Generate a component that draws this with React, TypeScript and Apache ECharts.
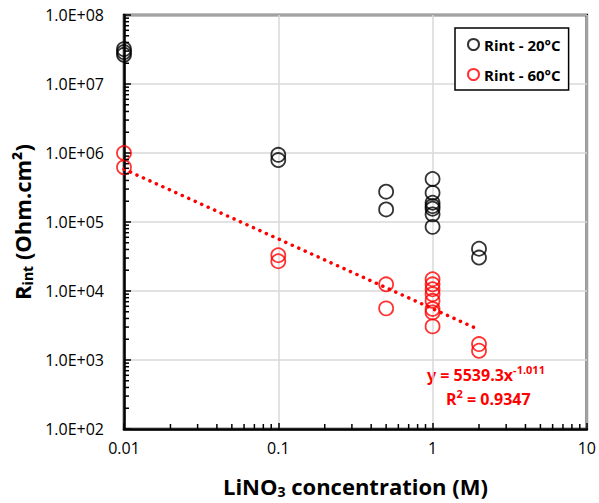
import React, { useEffect, useRef } from "react";
import * as echarts from "echarts";

const rint20X = [0.01, 0.01, 0.01, 0.1, 0.1, 0.5, 0.5, 1, 1, 1, 1, 1, 1, 1, 2, 2];
const rint20Y = [3.2e7, 2.9e7, 2.65e7, 9.4e5, 7.9e5, 2.75e5, 1.52e5, 4.2e5, 2.65e5, 1.9e5, 1.7e5, 1.56e5, 1.29e5, 8.5e4, 4.1e4, 3.05e4];
const rint60X = [0.01, 0.01, 0.1, 0.1, 0.5, 0.5, 1, 1, 1, 1, 1, 1, 1, 1, 2, 2];
const rint60Y = [1.0e6, 6.2e5, 3.3e4, 2.7e4, 1.25e4, 5.6e3, 1.48e4, 1.25e4, 1.06e4, 9.0e3, 7.2e3, 5.5e3, 4.9e3, 3.07e3, 1.7e3, 1.36e3];
const trendA = 5539.3;
const trendB = -1.011;
const trendRange = [0.01, 2];
const r2Text = "0.9347";
const seriesNames = ["Rint - 20°C", "Rint - 60°C"];
const xDecades = [0.01, 0.1, 1];
const yDecades = [100, 1000, 1e4, 1e5, 1e6, 1e7];
const minorMultipliers = [2, 3, 4, 5, 6, 7, 8, 9];

const FONT = "'Open Sans', Lato, sans-serif";

export default function App() {
  const ref = useRef<HTMLDivElement>(null);
  useEffect(() => {
    const chart = echarts.init(ref.current!, null, { renderer: "svg" });
    const pts = (xs: number[], ys: number[]) => xs.map((x, i) => [x, ys[i]]);
    const trend = trendRange.map((x) => [x, trendA * Math.pow(x, trendB)]);
    const markerStyle = (c: string) => ({ color: "transparent", borderColor: c, borderWidth: 1.8 });
    const xMinor: number[][] = [];
    xDecades.forEach((d) => minorMultipliers.forEach((m) => xMinor.push([d * m, 100])));
    const yMinor: number[][] = [];
    yDecades.forEach((d) => minorMultipliers.forEach((m) => yMinor.push([0.01, d * m])));
    const tickSeries = (data: number[][], horizontal: boolean) => ({
      type: "custom",
      silent: true,
      clip: false,
      z: 5,
      data,
      renderItem: (params: any, api: any) => {
        const p = api.coord([api.value(0), api.value(1)]);
        return {
          type: "line",
          shape: horizontal
            ? { x1: p[0], y1: p[1], x2: p[0] + 5, y2: p[1] }
            : { x1: p[0], y1: p[1], x2: p[0], y2: p[1] - 5 },
          style: { stroke: "#000", lineWidth: 1.5 },
        };
      },
    });
    const titleRich = {
      a: { fontFamily: FONT, fontWeight: "bold", fontSize: 22, color: "#000" },
      s: { fontFamily: FONT, fontWeight: "bold", fontSize: 14, color: "#000", padding: [11, 0, 0, 0] },
    };
    const eqRich = {
      a: { fontFamily: FONT, fontWeight: "bold", fontSize: 16, fill: "#ff0000" },
      s: { fontFamily: FONT, fontWeight: "bold", fontSize: 11, fill: "#ff0000", padding: [0, 0, 10, 0] },
    };
    chart.setOption({
      animation: false,
      textStyle: { fontFamily: FONT },
      grid: { left: 124, top: 15, right: 9, bottom: 73, show: true, borderColor: "#000", borderWidth: 2.5 },
      legend: {
        data: seriesNames,
        orient: "vertical",
        left: 455,
        top: 28,
        width: 120,
        padding: [9, 8, 8, 12],
        itemGap: 15,
        itemWidth: 11,
        itemHeight: 11,
        backgroundColor: "#fff",
        borderColor: "#000",
        borderWidth: 1.5,
        textStyle: { fontFamily: FONT, fontWeight: "bold", fontSize: 15, color: "#000" },
      },
      xAxis: {
        type: "log",
        logBase: 10,
        min: 0.01,
        max: 10,
        name: "{a|LiNO}{s|3}{a| concentration (M)}",
        nameLocation: "middle",
        nameGap: 44,
        nameTextStyle: { rich: titleRich },
        axisLine: { lineStyle: { color: "#000", width: 2.5 } },
        axisTick: { inside: true, length: 6, lineStyle: { color: "#000", width: 1.5 } },
        minorTick: { show: false },
        splitLine: { show: true, lineStyle: { color: "#d9d9d9", width: 1.5 } },
        axisLabel: { fontFamily: FONT, fontSize: 16, color: "#000", margin: 11, formatter: (v: number) => String(v) },
      },
      yAxis: {
        type: "log",
        logBase: 10,
        min: 100,
        max: 1e8,
        name: "{a|R}{s|int}{a| (Ohm.cm²)}",
        nameLocation: "middle",
        nameGap: 88,
        nameTextStyle: { rich: titleRich },
        axisLine: { lineStyle: { color: "#000", width: 2.5 } },
        axisTick: { inside: true, length: 7, lineStyle: { color: "#000", width: 1.5 } },
        minorTick: { show: false },
        splitLine: { show: true, lineStyle: { color: "#d9d9d9", width: 1.5 } },
        axisLabel: {
          fontFamily: FONT,
          fontSize: 16,
          color: "#000",
          margin: 20,
          formatter: (v: number) => {
            const e = Math.round(Math.log10(v));
            return "1.0E+" + (e < 10 ? "0" + e : String(e));
          },
        },
      },
      series: [
        {
          name: seriesNames[0],
          type: "scatter",
          symbol: "circle",
          symbolSize: 14,
          itemStyle: markerStyle("#000"),
          data: pts(rint20X, rint20Y),
          z: 3,
        },
        {
          name: seriesNames[1],
          type: "scatter",
          symbol: "circle",
          symbolSize: 14,
          itemStyle: markerStyle("#ff0000"),
          data: pts(rint60X, rint60Y),
          z: 3,
        },
        {
          name: "trend",
          type: "line",
          data: trend,
          showSymbol: false,
          symbol: "none",
          lineStyle: { color: "#ff0000", width: 3.5, type: [0.1, 7], cap: "round" },
          z: 2,
        },
        tickSeries(xMinor, false),
        tickSeries(yMinor, true),
      ],
      graphic: [
        {
          type: "text",
          left: 427,
          top: 364,
          style: { text: "{a|y = " + trendA + "x}{s|" + trendB + "}", rich: eqRich },
        },
        {
          type: "text",
          left: 446,
          top: 388,
          style: { text: "{a|R}{s|2}{a| = " + r2Text + "}", rich: eqRich },
        },
      ],
    });
    return () => chart.dispose();
  }, []);
  return <div ref={ref} style={{ width: 599, height: 503, position: "absolute", left: 0, top: 0 }} />;
}
